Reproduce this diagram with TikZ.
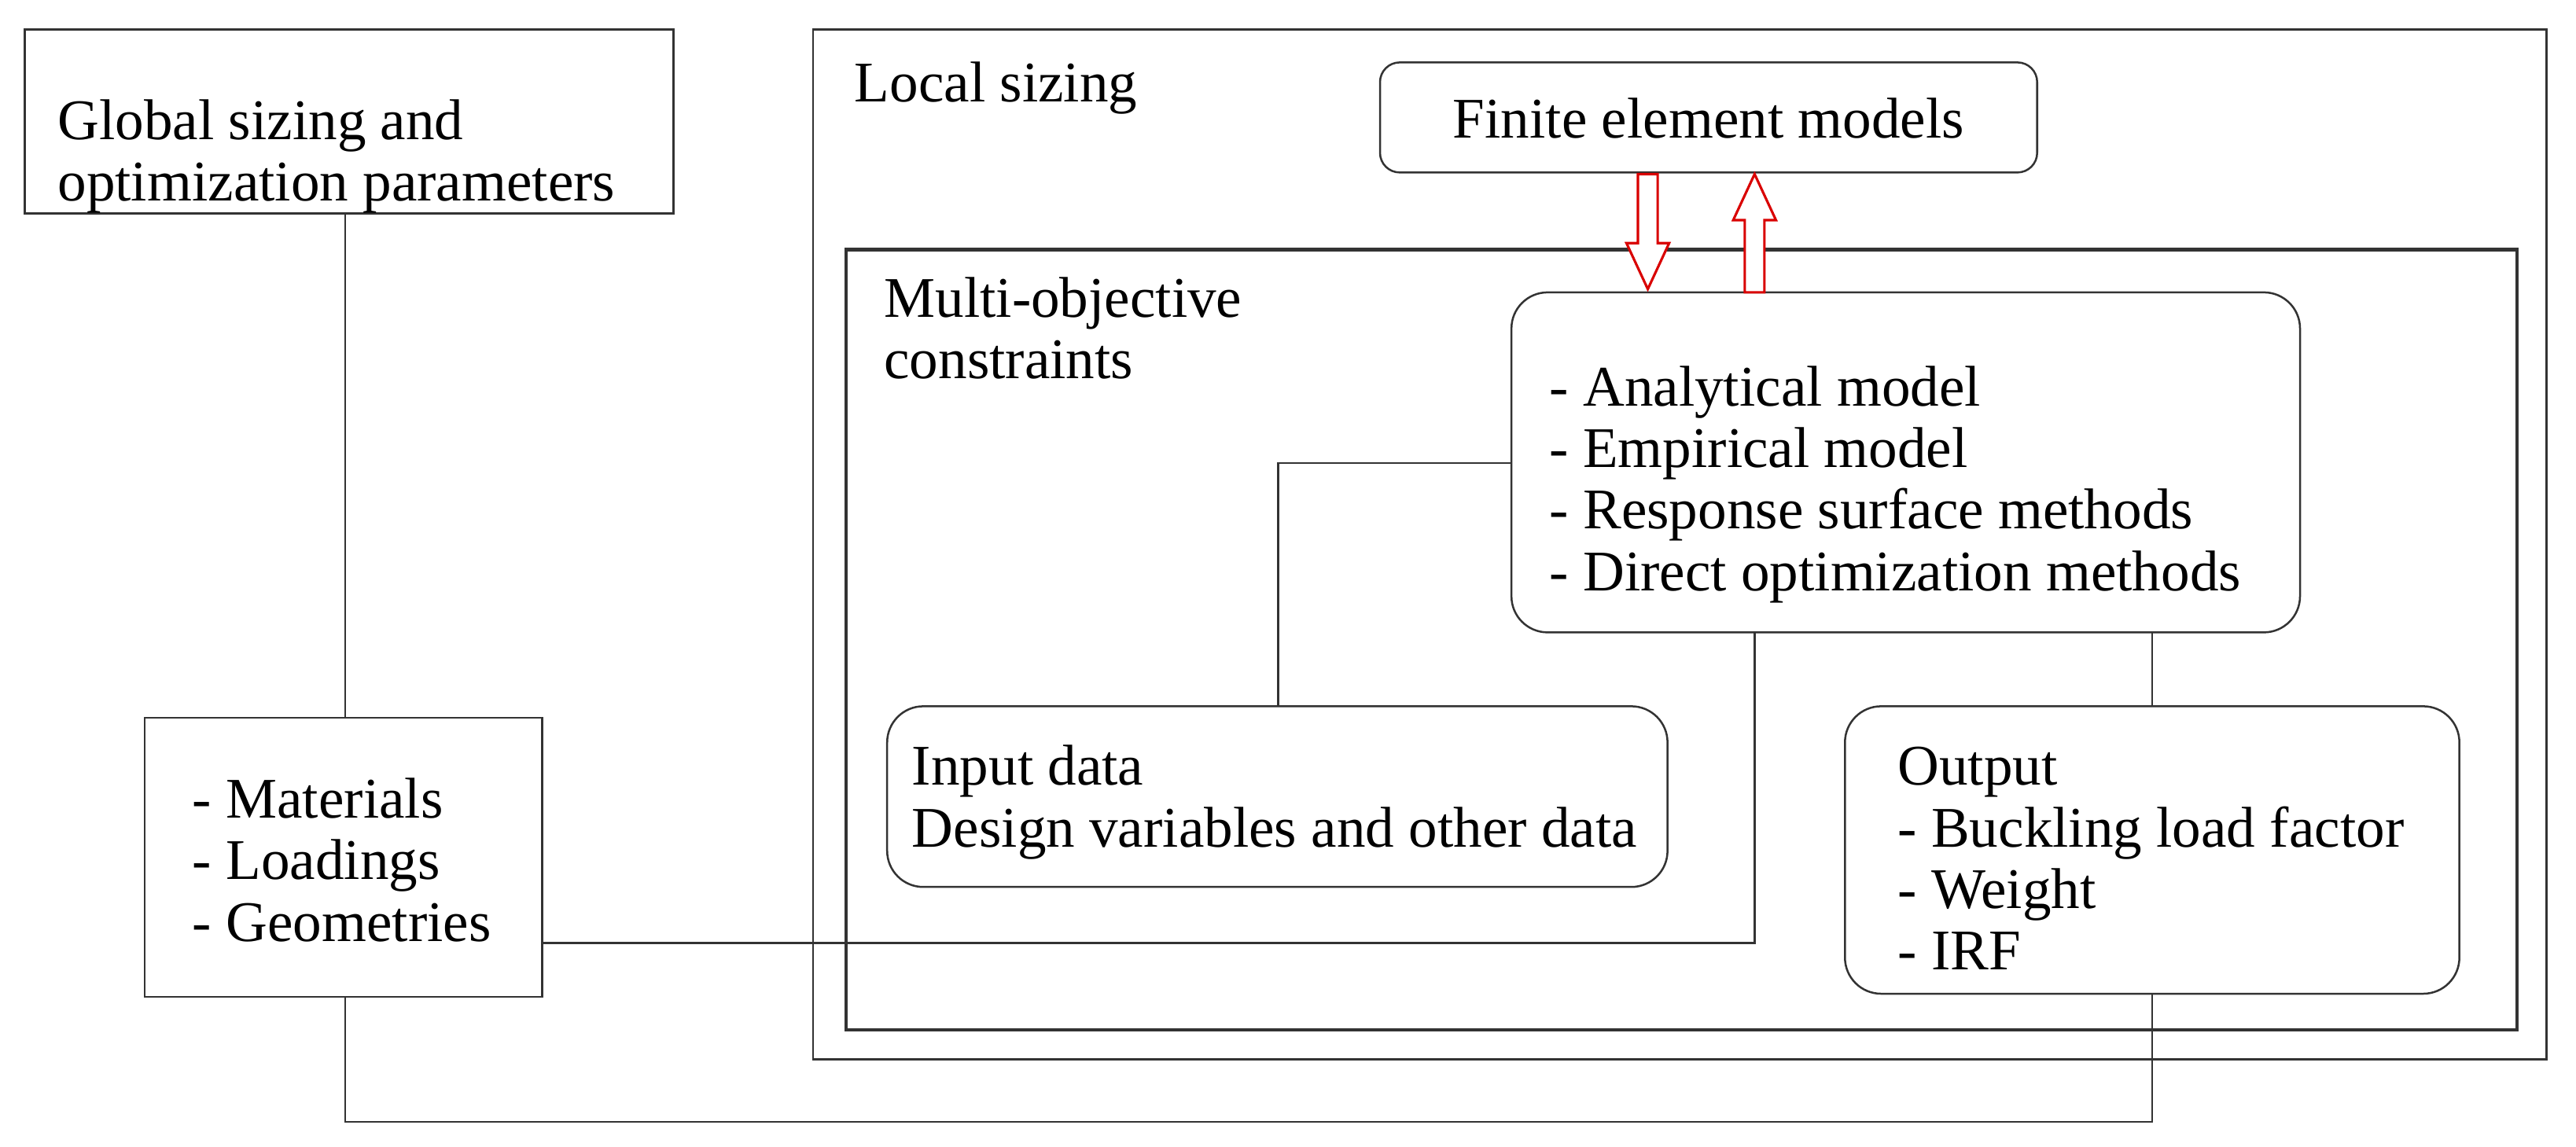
\documentclass[tikz,border=0pt]{standalone}
\usepackage{fontspec}
\setmainfont{Liberation Serif}
\begin{document}
\begin{tikzpicture}[x=1pt,y=-1pt,
  box/.style={draw=black!80,line width=1.2pt},
  rbox/.style={draw=black!80,line width=1.2pt,rounded corners=22pt},
  lbl/.style={anchor=base west,align=left,font=\fontsize{35}{37.5}\selectfont,inner sep=0pt},
  ln/.style={draw=black!80,line width=1.2pt},
  harrow/.style={draw=red!85!black,line width=1.5pt,fill=white}]
\useasboundingbox (0,0) rectangle (1568,698);
% boxes
\draw[box] (15,18) rectangle (410,130); \node[lbl] (gt) at (35,122.5) {Global sizing and\\optimization parameters};
\draw[box] (495,18) rectangle (1550,645); \node[lbl] (lt) at (520,62) {Local sizing};
\draw[rbox,rounded corners=12pt] (840,38) rectangle (1240,105); \node[font=\fontsize{35}{37.5}\selectfont] (fe) at (1040,72) {Finite element models};
\draw[box,line width=2pt] (515,152) rectangle (1532,627); \node[lbl] (mt) at (538,230.5) {Multi-objective\\constraints};
\draw[rbox] (920,178) rectangle (1400,385); \node[lbl] (at) at (943,359.5) {- Analytical model\\- Empirical model\\- Response surface methods\\- Direct optimization methods};
\draw[rbox] (540,430) rectangle (1015,540); \node[lbl] (it) at (555,515.5) {Input data\\Design variables and other data};
\draw[rbox] (1123,430) rectangle (1497,605); \node[lbl] (ot) at (1155,590.5) {Output\\- Buckling load factor\\- Weight\\- IRF};
\draw[box] (88,437) rectangle (330,607); \node[lbl] (mat) at (117,573) {- Materials\\- Loadings\\- Geometries};
% connectors
\coordinate (g1) at (210,130); \coordinate (m1) at (210,437);
\draw[ln] (g1) -- (m1);
\coordinate (a1) at (920,282); \coordinate (a2) at (778,282); \coordinate (i1) at (778,430);
\draw[ln] (a1) -- (a2) -- (i1);
\coordinate (m2) at (330,574); \coordinate (c2) at (1068,574); \coordinate (a3) at (1068,385);
\draw[ln] (m2) -- (c2) -- (a3);
\coordinate (a4) at (1310,385); \coordinate (o1) at (1310,430);
\draw[ln] (a4) -- (o1);
\coordinate (m3) at (210,607); \coordinate (b1) at (210,683); \coordinate (b2) at (1310,683); \coordinate (o2) at (1310,605);
\draw[ln] (m3) -- (b1) -- (b2) -- (o2);
% hollow arrows
\draw[harrow] (997,106) -- (1009,106) -- (1009,148) -- (1016,148) -- (1003,176) -- (990,148) -- (997,148) -- cycle;
\draw[harrow] (1062,178) -- (1074,178) -- (1074,134) -- (1081,134) -- (1068,106) -- (1055,134) -- (1062,134) -- cycle;
\end{tikzpicture}
\end{document}
